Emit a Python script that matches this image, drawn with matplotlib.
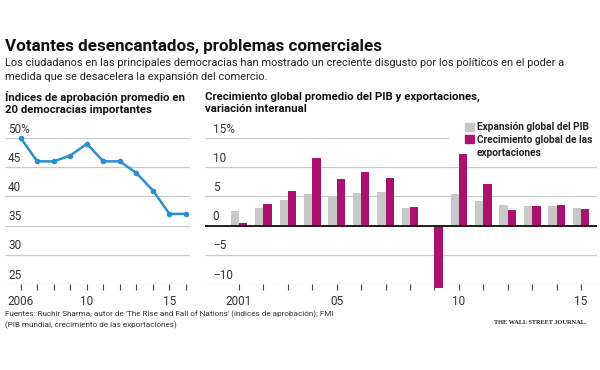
import matplotlib.pyplot as plt
from matplotlib.patches import Patch
from matplotlib.transforms import blended_transform_factory

# approval ratings, 20 major democracies
approval_years = [2006, 2007, 2008, 2009, 2010, 2011, 2012, 2013, 2014, 2015, 2016]
approval = [50, 46, 46, 47, 49, 46, 46, 44, 41, 37, 37]
approval_yticks = [25, 30, 35, 40, 45, 50]
approval_ylabels = ['25', '30', '35', '40', '45', '50%']
approval_xlabels = {2006: '2006', 2010: '10', 2015: '15'}

# global GDP and export growth, % change
trade_years = list(range(2001, 2016))
gdp_growth = [2.5, 3.0, 4.3, 5.4, 5.0, 5.5, 5.7, 3.0, -0.1, 5.4, 4.2, 3.5, 3.3, 3.4, 3.0]
export_growth = [0.4, 3.7, 5.9, 11.5, 7.9, 9.1, 8.1, 3.1, -10.7, 12.3, 7.2, 2.7, 3.3, 3.6, 2.9]
trade_yticks = [-10, -5, 0, 5, 10, 15]
trade_ylabels = ['\u221210', '\u22125', '0', '5', '10', '15%']
trade_xlabels = {2001: '2001', 2005: '05', 2010: '10', 2015: '15'}

BLUE = '#2b8ed0'
MAGENTA = '#aa1170'
GRAY = '#c8c8c8'
GRID = '#c9c9c9'
TXT = '#222222'
FONT = ['Roboto', 'DejaVu Sans']

plt.rcParams['font.family'] = FONT

W, H = 600, 370
fig = plt.figure(figsize=(W / 100, H / 100), dpi=100)
renderer = fig.canvas.get_renderer()


def box(x0, y0, x1, y1):
    # pixel box (top-left origin) -> figure fraction rect
    return [x0 / W, 1 - y1 / H, (x1 - x0) / W, (y1 - y0) / H]


def ftext(x, y, s, **kw):
    return fig.text(x / W, 1 - y / H, s, **kw)


def fit(t, width):
    # scale font so the text is `width` px wide, like the condensed original
    bb = t.get_window_extent(renderer)
    t.set_fontsize(t.get_fontsize() * width / bb.width)
    return t.get_fontsize()


t = ftext(5, 47, 'Votantes desencantados, problemas comerciales',
          fontsize=14, fontweight='bold', color='#111111', va='center')
fit(t, 379)
t = ftext(5, 63, 'Los ciudadanos en las principales democracias han mostrado un creciente '
          'disgusto por los políticos en el poder a', fontsize=9, color=TXT, va='center')
sub_size = fit(t, 558)
ftext(5, 77, 'medida que se desacelera la expansión del comercio.',
      fontsize=sub_size, color=TXT, va='center')
t = ftext(205, 103, 'Crecimiento global promedio del PIB y exportaciones,\nvariación interanual',
          fontsize=9, fontweight='bold', color='#111111', va='center', linespacing=1.3)
head_size = fit(t, 273)
ftext(5, 103, 'Índices de aprobación promedio en\n20 democracias importantes',
      fontsize=head_size, fontweight='bold', color='#111111', va='center', linespacing=1.3)


def style_axis(ax, yticks, ylabels, label_x):
    for s in ax.spines.values():
        s.set_visible(False)
    ax.set_yticks([])
    tr = blended_transform_factory(ax.transAxes, ax.transData)
    for v, lab in zip(yticks, ylabels):
        ax.text(label_x, v + 0.4, lab, transform=tr, fontsize=8.5, color='#333333',
                va='bottom', ha='left')
    ax.tick_params(axis='x', length=4, width=0.8, color='#444444', pad=4,
                   labelsize=8.5, labelcolor='#333333')


# left: approval line
ax1 = fig.add_axes(box(5, 138, 190, 284))
ax1.set_xlim(2005.05, 2016.24)
ax1.set_ylim(25, 50)
style_axis(ax1, approval_yticks, approval_ylabels, 0.017)
for v in approval_yticks:
    ax1.axhline(v, color=GRID, lw=0.9, zorder=0)
ax1.plot(approval_years, approval, color=BLUE, lw=1.8, marker='o', ms=3,
         clip_on=False, zorder=3)
ax1.set_xticks(approval_years)
ax1.set_xticklabels([approval_xlabels.get(y, '') for y in approval_years])

# right: GDP vs exports bars
ax2 = fig.add_axes(box(205, 138, 597, 284))
ax2.set_xlim(1999.61, 2015.65)
ax2.set_ylim(-10, 15)
style_axis(ax2, trade_yticks, trade_ylabels, 0.02)
for v in trade_yticks:
    # top gridline stops short of the legend
    ax2.axhline(v, xmax=0.62 if v == max(trade_yticks) else 1, color=GRID, lw=0.9, zorder=0)
ax2.axhline(0, color='#111111', lw=1.3, zorder=4)
bw = 0.34
ax2.bar([y - bw / 2 for y in trade_years], gdp_growth, width=bw, color=GRAY,
        zorder=2, clip_on=False)
ax2.bar([y + bw / 2 for y in trade_years], export_growth, width=bw, color=MAGENTA,
        zorder=2, clip_on=False)
ax2.set_xticks(trade_years)
ax2.set_xticklabels([trade_xlabels.get(y, '') for y in trade_years])

# legend font sized to the original's text width
t = ftext(0, 0, 'Expansión global del PIB', fontsize=8, fontweight='bold')
leg_size = fit(t, 112)
t.remove()
handles = [Patch(color=GRAY), Patch(color=MAGENTA), Patch(color='none')]
ax2.legend(handles, ['Expansión global del PIB', 'Crecimiento global de las', 'exportaciones'],
           loc='upper left', bbox_to_anchor=(460 / W, 1 - 117 / H),
           bbox_transform=fig.transFigure, frameon=False, borderpad=0,
           handlelength=0.85, handleheight=0.85, handletextpad=0.3,
           labelspacing=0.28, prop={'family': FONT, 'weight': 'bold', 'size': leg_size},
           labelcolor='#222222')

t = ftext(5, 314, "Fuentes: Ruchir Sharma, autor de 'The Rise and Fall of Nations' "
          "(índices de aprobación); FMI", fontsize=6.5, color='#333333', va='center')
foot_size = fit(t, 330)
ftext(5, 325, '(PIB mundial, crecimiento de las exportaciones)',
      fontsize=foot_size, color='#333333', va='center')
t = ftext(587, 322, 'THE WALL STREET JOURNAL.', fontsize=6.3, color='#222222',
          va='center', ha='right', family=['Liberation Serif', 'DejaVu Serif'],
          fontweight='bold')
fit(t, 94)

fig.savefig('out.png', dpi=100, facecolor='white')
